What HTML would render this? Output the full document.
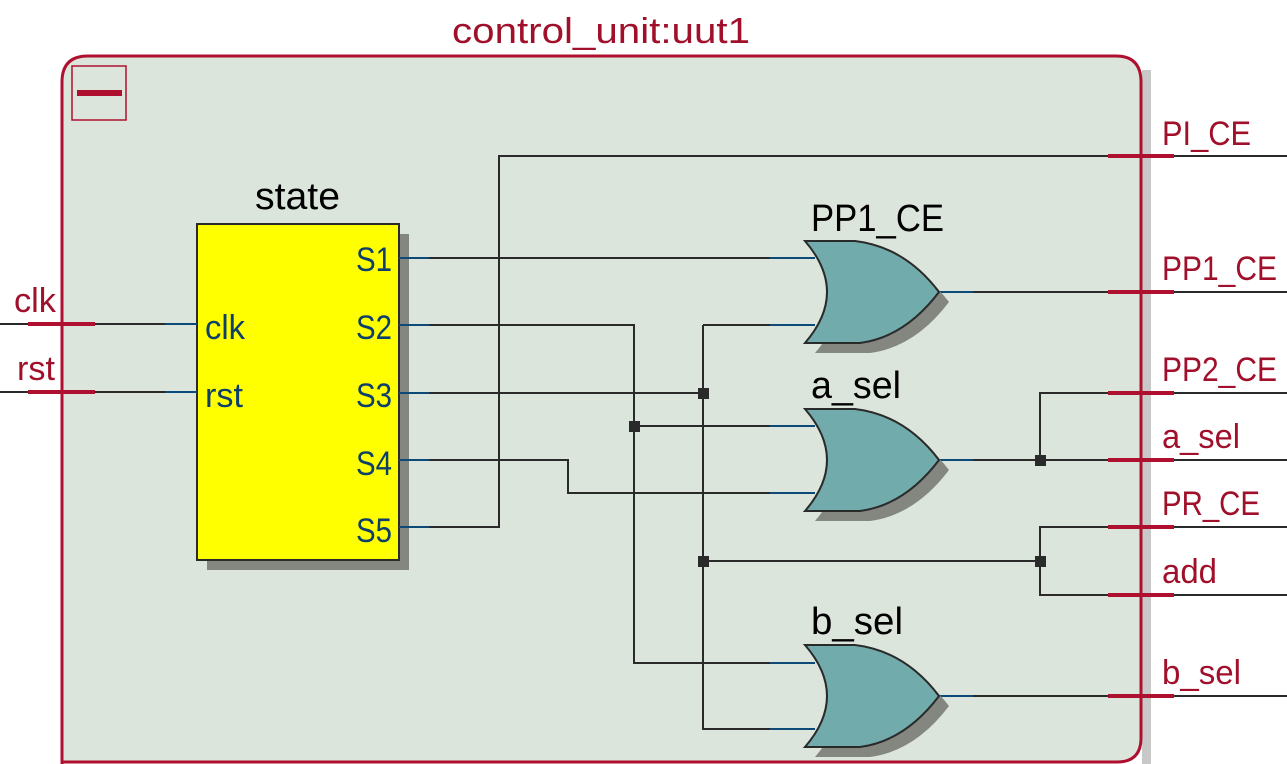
<!DOCTYPE html>
<html><head><meta charset="utf-8"><style>html,body{margin:0;padding:0;background:#fff;}svg{display:block}</style></head>
<body>
<svg width="1287" height="764" viewBox="0 0 1287 764" xmlns="http://www.w3.org/2000/svg" font-family="'Liberation Sans', sans-serif">
<defs>
<path id="g" d="M0,-51 L50,-51 Q100,-45 134,0 Q100,45 55,51 L0,51 Q44,0 0,-51 Z"/>
</defs>
<rect x="1142" y="70" width="9" height="694" fill="#c8c8c8"/>
<path d="M62,764 L62,82 Q62,56 88,56 L1116,56 Q1141,56 1141,82 L1141,738 Q1141,762 1117,762 L62,762" fill="#dce5dc" stroke="#b01030" stroke-width="3"/>
<rect x="72" y="66" width="54" height="54" fill="none" stroke="#b01030" stroke-width="1.5"/>
<rect x="77" y="90" width="45" height="6" fill="#b01030"/>
<text x="452" y="43" font-size="36" fill="#a0102a" textLength="298" lengthAdjust="spacingAndGlyphs">control_unit:uut1</text>

<rect x="207" y="234" width="202" height="336" fill="#838780"/>
<rect x="197" y="224" width="202" height="336" fill="#ffff00" stroke="#2a2a2a" stroke-width="2"/>
<text x="255" y="209" font-size="38" fill="#000" textLength="85" lengthAdjust="spacingAndGlyphs">state</text>
<g font-size="34" fill="#0d3f6a">
<text x="205" y="339" textLength="40" lengthAdjust="spacingAndGlyphs">clk</text>
<text x="205" y="407" textLength="38" lengthAdjust="spacingAndGlyphs">rst</text>
<text x="356" y="271" textLength="36" lengthAdjust="spacingAndGlyphs">S1</text>
<text x="356" y="339" textLength="36" lengthAdjust="spacingAndGlyphs">S2</text>
<text x="356" y="407" textLength="36" lengthAdjust="spacingAndGlyphs">S3</text>
<text x="356" y="475" textLength="36" lengthAdjust="spacingAndGlyphs">S4</text>
<text x="356" y="542" textLength="36" lengthAdjust="spacingAndGlyphs">S5</text>
</g>

<g stroke="#2a2a2a" stroke-width="2" fill="none">
<path d="M0,324 H165"/><path d="M0,392 H165"/>
<path d="M429,258 H770"/>
<path d="M429,325 H634 V663 H770"/>
<path d="M634,426 H770"/>
<path d="M429,393 H703"/>
<path d="M703,325 H770"/>
<path d="M703,325 V729 H770"/>
<path d="M429,460 H568 V493 H770"/>
<path d="M429,527 H499 V156 H1287"/>
<path d="M973,292 H1287"/>
<path d="M973,460 H1287"/>
<path d="M1040,460 V393 H1287"/>
<path d="M703,561 H1040 V527 H1287"/>
<path d="M1040,561 V595 H1287"/>
<path d="M973,696 H1287"/>
</g>
<g stroke="#0d4a78" stroke-width="2">
<path d="M165,324 H197 M165,392 H197"/>
<path d="M399,258 H429 M399,325 H429 M399,393 H429 M399,460 H429 M399,527 H429"/>
<path d="M770,258 H815 M770,325 H815 M770,426 H815 M770,493 H815 M770,663 H815 M770,729 H815"/>
<path d="M939,292 H973 M939,460 H973 M939,696 H973"/>
</g>
<g fill="#2a2a2a">
<rect x="698" y="388" width="11" height="11"/>
<rect x="629" y="421" width="11" height="11"/>
<rect x="1035" y="455" width="11" height="11"/>
<rect x="698" y="556" width="11" height="11"/>
<rect x="1035" y="556" width="11" height="11"/>
</g>

<g transform="translate(805,292)"><use href="#g" x="10" y="10" fill="#838780"/><use href="#g" fill="#72abab" stroke="#2a2a2a" stroke-width="2"/></g>
<g transform="translate(805,460)"><use href="#g" x="10" y="10" fill="#838780"/><use href="#g" fill="#72abab" stroke="#2a2a2a" stroke-width="2"/></g>
<g transform="translate(805,696)"><use href="#g" x="10" y="10" fill="#838780"/><use href="#g" fill="#72abab" stroke="#2a2a2a" stroke-width="2"/></g>
<g font-size="38" fill="#000">
<text x="811" y="231" textLength="133" lengthAdjust="spacingAndGlyphs">PP1_CE</text>
<text x="811" y="398" textLength="90" lengthAdjust="spacingAndGlyphs">a_sel</text>
<text x="811" y="634" textLength="92" lengthAdjust="spacingAndGlyphs">b_sel</text>
</g>

<g stroke="#b01030" stroke-width="4">
<path d="M28,324 H95 M28,392 H95"/>
<path d="M1108,156 H1174 M1108,292 H1174 M1108,393 H1174 M1108,460 H1174 M1108,527 H1174 M1108,595 H1174 M1108,696 H1174"/>
</g>
<g font-size="34" fill="#a0102a">
<text x="14" y="312" textLength="42" lengthAdjust="spacingAndGlyphs">clk</text>
<text x="17" y="380" textLength="38" lengthAdjust="spacingAndGlyphs">rst</text>
<text x="1162" y="145" textLength="89" lengthAdjust="spacingAndGlyphs">PI_CE</text>
<text x="1162" y="280" textLength="115" lengthAdjust="spacingAndGlyphs">PP1_CE</text>
<text x="1162" y="381" textLength="115" lengthAdjust="spacingAndGlyphs">PP2_CE</text>
<text x="1162" y="448" textLength="78" lengthAdjust="spacingAndGlyphs">a_sel</text>
<text x="1162" y="515" textLength="98" lengthAdjust="spacingAndGlyphs">PR_CE</text>
<text x="1162" y="583" textLength="55" lengthAdjust="spacingAndGlyphs">add</text>
<text x="1162" y="684" textLength="79" lengthAdjust="spacingAndGlyphs">b_sel</text>
</g>
</svg>
</body></html>
